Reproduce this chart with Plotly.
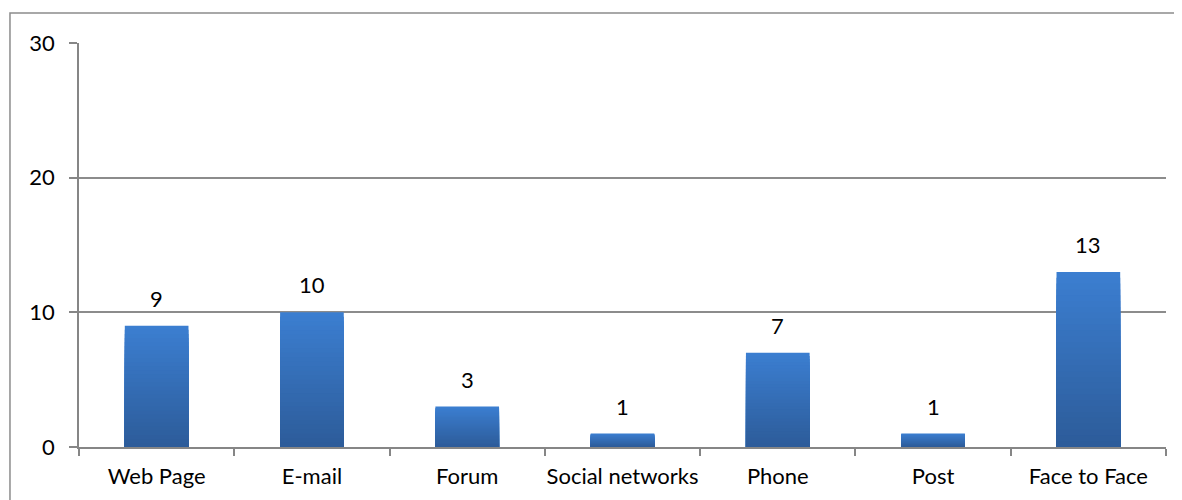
import plotly.graph_objects as go

categories = ["Web Page", "E-mail", "Forum", "Social networks", "Phone", "Post", "Face to Face"]
values = [9, 10, 3, 1, 7, 1, 13]
y_ticks = [0, 10, 20, 30]

top_rgb = (59, 126, 208)
bot_rgb = (45, 92, 154)
N = 30

fig = go.Figure()
for k in range(N):
    t = k / (N - 1)
    c = tuple(round(top_rgb[i] + (bot_rgb[i] - top_rgb[i]) * t) for i in range(3))
    fig.add_trace(go.Bar(
        x=categories,
        y=[v * (1 - k / N) for v in values],
        marker=dict(color="rgb(%d,%d,%d)" % c, line=dict(width=0)),
        width=0.41,
        hoverinfo="skip" if k else "x+y",
        showlegend=False,
    ))

for c, v in zip(categories, values):
    fig.add_annotation(x=c, y=v, text=str(v), showarrow=False, yanchor="bottom",
                       yshift=12, font=dict(size=22, color="#000000"))

# outer frame (top and left edges visible)
fig.add_shape(type="rect", xref="paper", yref="paper",
              x0=-0.0635, x1=1.2, y0=-0.5, y1=1.0743,
              line=dict(color="#8c8c8c", width=1.5), fillcolor="rgba(0,0,0,0)", layer="below")

fig.update_layout(
    width=1174, height=492,
    margin=dict(l=71, r=16, t=35, b=53, autoexpand=False),
    paper_bgcolor="white", plot_bgcolor="white",
    barmode="overlay",
    font=dict(family="Lato, Carlito, Calibri, sans-serif", size=22, color="#000000"),
    xaxis=dict(
        type="category", showline=True, linecolor="#868686", linewidth=1.5,
        ticks="outside", tickson="boundaries", ticklen=7, tickcolor="#868686", tickwidth=1.5,
        showgrid=False, mirror=False, ticklabelstandoff=9, automargin=False,
        tickangle=0, tickfont=dict(size=22),
    ),
    yaxis=dict(
        range=[0, 30], tickvals=y_ticks, showline=True, linecolor="#868686", linewidth=1.5,
        ticks="outside", ticklen=8, tickcolor="#868686", tickwidth=1.5,
        showgrid=True, gridcolor="#8c8c8c", gridwidth=1.5, zeroline=False,
        ticklabelstandoff=10, tickfont=dict(size=22), automargin=False,
    ),
)

fig.write_html("out.html")
